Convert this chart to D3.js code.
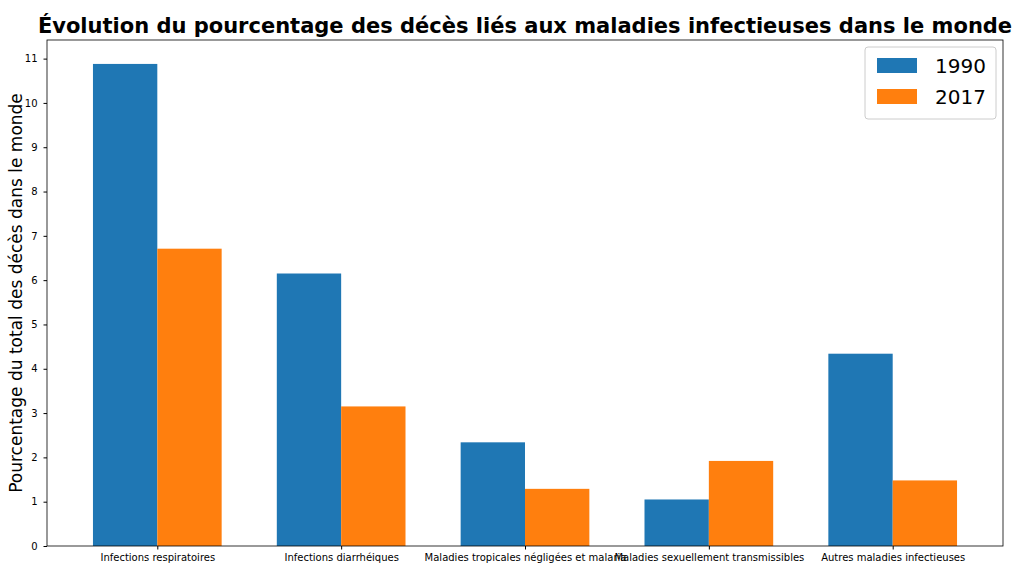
<!DOCTYPE html>
<html><head><meta charset="utf-8">
<script src="https://cdn.jsdelivr.net/npm/d3@7"></script>
<style>body{margin:0;background:#fff}text{font-family:"DejaVu Sans",sans-serif}</style>
</head><body>
<svg id="chart" width="1024" height="570"></svg>
<script>
const categories = ["Infections respiratoires", "Infections diarrhéiques", "Maladies tropicales négligées et malaria", "Maladies sexuellement transmissibles", "Autres maladies infectieuses"]
const years = ["1990", "2017"]
const values1990 = [10.88, 6.15, 2.34, 1.05, 4.34]
const values2017 = [6.71, 3.15, 1.29, 1.92, 1.48]
const yTicks = [0, 1, 2, 3, 4, 5, 6, 7, 8, 9, 10, 11]
const colors = ["#1f77b4", "#ff7f0e"]

const svg = d3.select("#chart")
const mLeft = 47, mRight = 1003, mTop = 40, mBottom = 546
const x = d3.scaleLinear().domain([-0.6, categories.length - 0.4]).range([mLeft, mRight])
const y = d3.scaleLinear().domain([0, 11.42]).range([mBottom, mTop])
const bw = 0.35

const series = [values1990, values2017]
series.forEach((vals, s) => {
  svg.append("g").selectAll("rect").data(vals).join("rect")
    .attr("x", (d, i) => x(i - bw + s * bw))
    .attr("width", x(bw) - x(0))
    .attr("y", d => y(d))
    .attr("height", d => y(0) - y(d))
    .attr("fill", colors[s])
})

const yAxis = svg.append("g").attr("transform", `translate(${mLeft},0)`)
  .call(d3.axisLeft(y).tickValues(yTicks).tickSize(3.5).tickPadding(6))
yAxis.selectAll("text").attr("font-size", 10)
yAxis.select(".domain").remove()

const xAxis = svg.append("g").attr("transform", `translate(0,${mBottom})`)
  .call(d3.axisBottom(x).tickValues(d3.range(categories.length)).tickFormat(i => categories[i]).tickSize(3.5).tickPadding(4))
xAxis.selectAll("text").attr("font-size", 10)
xAxis.select(".domain").remove()

svg.append("rect").attr("x", mLeft).attr("y", mTop).attr("width", mRight - mLeft).attr("height", mBottom - mTop)
  .attr("fill", "none").attr("stroke", "#000").attr("stroke-width", 0.8)

svg.append("text").attr("x", (mLeft + mRight) / 2).attr("y", 33).attr("text-anchor", "middle")
  .attr("font-size", 21).attr("font-weight", "bold")
  .text("Évolution du pourcentage des décès liés aux maladies infectieuses dans le monde")

svg.append("text").attr("transform", `translate(22,${(mTop + mBottom) / 2}) rotate(-90)`)
  .attr("text-anchor", "middle").attr("font-size", 17)
  .text("Pourcentage du total des décès dans le monde")

const lg = svg.append("g").attr("transform", "translate(865,47)")
lg.append("rect").attr("width", 131).attr("height", 72).attr("rx", 3)
  .attr("fill", "#fff").attr("stroke", "#ccc")
years.forEach((yr, i) => {
  lg.append("rect").attr("x", 12).attr("y", 11 + i * 31).attr("width", 40).attr("height", 15).attr("fill", colors[i])
  lg.append("text").attr("x", 70).attr("y", 26 + i * 31).attr("font-size", 20).text(yr)
})
</script>
</body></html>
